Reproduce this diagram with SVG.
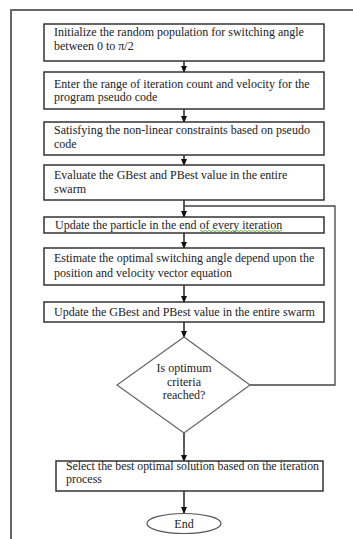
<svg xmlns="http://www.w3.org/2000/svg" width="353" height="539" viewBox="0 0 353 539">
<style>
.box{fill:#fff;stroke:#333;stroke-width:1.5}
.dia{fill:#fff;stroke:#666;stroke-width:1.2}
.t{font-family:"Liberation Serif","Times New Roman",serif;font-size:12px;fill:#222}
.c{text-anchor:middle}
.ln{fill:none;stroke:#222;stroke-width:1.5}
.loop{fill:none;stroke:#444;stroke-width:1.3}
</style>
<defs>
<marker id="ah" markerWidth="7" markerHeight="6" refX="6" refY="3" orient="auto" markerUnits="userSpaceOnUse">
<path d="M0,0 L7,3 L0,6 Z" fill="#111"/>
</marker>
</defs>
<rect width="353" height="539" fill="#fff"/>
<g id="frame"><path d="M353,10 H11 V539" fill="none" stroke="#666" stroke-width="2"/></g>
<g id="connectors">
<line class="ln" x1="184" y1="61" x2="184" y2="72" marker-end="url(#ah)"/>
<line class="ln" x1="184" y1="109" x2="184" y2="122" marker-end="url(#ah)"/>
<line class="ln" x1="184" y1="155" x2="184" y2="165" marker-end="url(#ah)"/>
<line class="ln" x1="184" y1="200" x2="184" y2="217" marker-end="url(#ah)"/>
<line class="ln" x1="184" y1="233" x2="184" y2="248" marker-end="url(#ah)"/>
<line class="ln" x1="184" y1="285" x2="184" y2="302" marker-end="url(#ah)"/>
<line class="ln" x1="184" y1="322" x2="184" y2="337" marker-end="url(#ah)"/>
<line class="ln" x1="184" y1="433" x2="184" y2="461" marker-end="url(#ah)"/>
<line class="ln" x1="184" y1="491" x2="184" y2="513" marker-end="url(#ah)"/>
<path class="loop" d="M250,385 H335 V206 H184"/>
</g>
<g id="n1"><rect class="box" x="44" y="24" width="280" height="37"/>
<text class="t" x="54" y="36">Initialize the random population for switching angle</text>
<text class="t" x="54" y="49.5">between 0 to π/2</text></g>
<g id="n2"><rect class="box" x="44" y="72" width="280" height="37"/>
<text class="t" x="54" y="87.5">Enter the range of iteration count and velocity for the</text>
<text class="t" x="54" y="101">program pseudo code</text></g>
<g id="n3"><rect class="box" x="44" y="122" width="280" height="33"/>
<text class="t" x="54" y="134">Satisfying the non-linear constraints based on pseudo</text>
<text class="t" x="54" y="147.5">code</text></g>
<g id="n4"><rect class="box" x="44" y="165" width="280" height="35"/>
<text class="t" x="54" y="179">Evaluate the GBest and PBest value in the entire</text>
<text class="t" x="54" y="193">swarm</text></g>
<g id="n5"><rect class="box" x="44" y="217" width="280" height="16"/>
<text class="t" x="55" y="229">Update the particle in the end of every iteration</text>
<path d="M200,231 q1,-1.2 2,0 t2,0 t2,0 t2,0 t2,0 t2,0 t2,0 t2,0 t2,0 t2,0 t2,0 t2,0 t2,0 t2,0 t2,0 t2,0 t2,0 t2,0 t2,0 t2,0 t2,0 t2,0 t2,0 t2,0 t2,0 t2,0 t2,0 t2,0 t2,0 t2,0 t2,0 t2,0 t2,0 t2,0 t2,0 t2,0 t2,0 t2,0 t2,0 t2,0 t2,0" fill="none" stroke="#5fa83a" stroke-width="0.9"/></g>
<g id="n6"><rect class="box" x="44" y="248" width="280" height="37"/>
<text class="t" x="54" y="262">Estimate the optimal switching angle depend upon the</text>
<text class="t" x="54" y="277">position and velocity vector equation</text></g>
<g id="n7"><rect class="box" x="44" y="302" width="280" height="20"/>
<text class="t" x="54" y="315.5">Update the GBest and PBest value in the entire swarm</text></g>
<g id="n8"><polygon class="dia" points="184,337 250,385 184,433 117,385"/>
<text class="t c" x="184" y="372">Is optimum</text>
<text class="t c" x="184" y="385.5">criteria</text>
<text class="t c" x="184" y="399">reached?</text></g>
<g id="n9"><rect class="box" x="56" y="461" width="267" height="30"/>
<text class="t" x="66" y="469.5" textLength="253" lengthAdjust="spacingAndGlyphs">Select the best optimal solution based on the iteration</text>
<text class="t" x="66" y="483">process</text></g>
<g id="n10"><ellipse cx="184" cy="523.5" rx="37" ry="10" fill="#fff" stroke="#555" stroke-width="1.2"/>
<text class="t c" x="184" y="527.5">End</text></g>
</svg>
